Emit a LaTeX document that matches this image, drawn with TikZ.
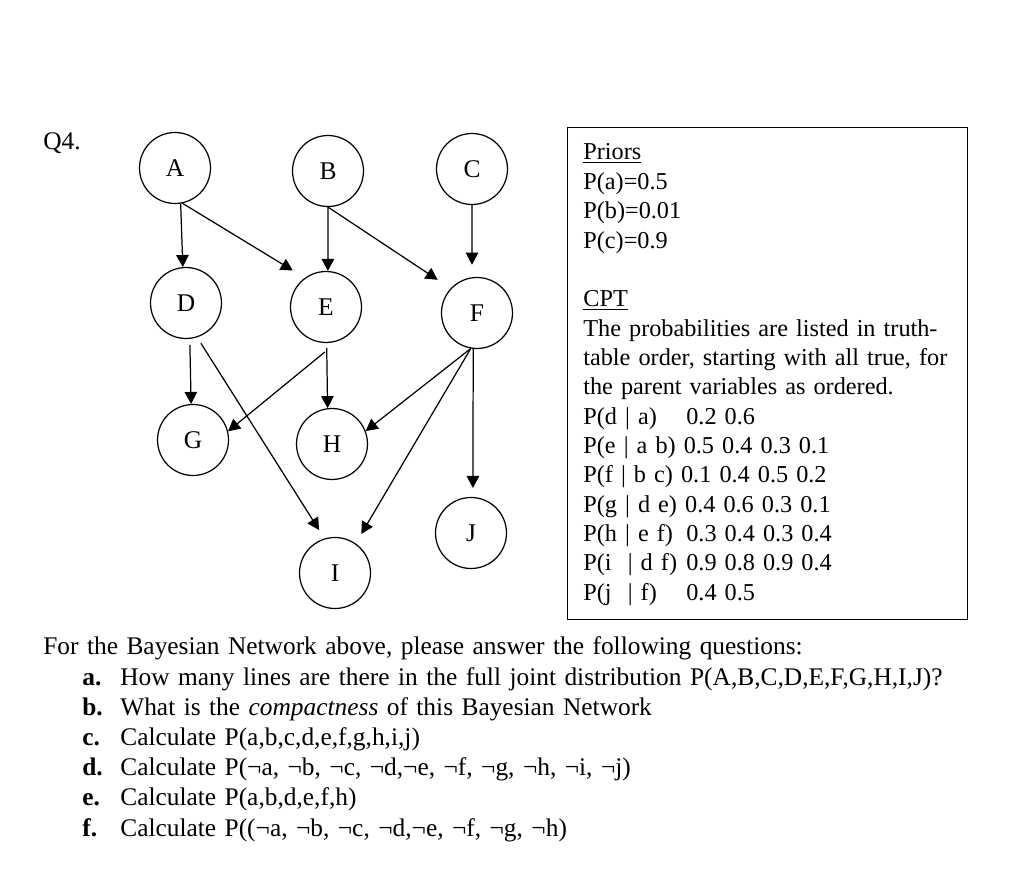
\documentclass[tikz,border=0pt]{standalone}
\usepackage{fontspec}
\setmainfont{Liberation Serif}
\usetikzlibrary{arrows.meta}
\tikzset{
  var/.style={circle, draw, line width=0.7pt, minimum size=1.42cm, inner sep=0pt,
              font=\fontsize{14.5}{17}\selectfont},
  flow/.style={-{Triangle[length=2.4mm, width=2.5mm]}, line width=0.7pt},
  txt/.style={align=left, inner sep=0pt, font=\fontsize{13.8}{16.7}\selectfont},
  qtxt/.style={txt, font=\fontsize{14.45}{17.1}\selectfont},
  panel/.style={draw, line width=0.7pt, inner sep=0pt, minimum width=8cm,
                minimum height=9.84cm, anchor=north west},
}
\newcommand{\cptrow}[2]{\makebox[2.06cm][l]{#1}#2}
\newcommand{\qitem}[2]{\hspace*{0.78cm}\makebox[0.76cm][l]{\textbf{#1}}#2}

\begin{document}
\begin{tikzpicture}[x=0.02cm, y=-0.02cm]
  \useasboundingbox (0,0) rectangle (1024,891);

  \node[qtxt, anchor=base west] (q4) at (43,150) {Q4.};

  % network
  \node[var] (A) at (175,168) {A};
  \node[var] (B) at (328,171) {B};
  \node[var] (C) at (472,169) {C};
  \node[var] (D) at (186,303) {D};
  \node[var] (E) at (326,307) {E};
  \node[var] (F) at (477,313) {F};
  \node[var] (G) at (193,440) {G};
  \node[var] (H) at (332,444) {H};
  \node[var] (I) at (335,573) {I};
  \node[var] (J) at (471,533) {J};

  \draw[flow] (A.-81) -- (D.95);
  \draw[flow, shorten >=0.28cm] (A.-78) -- (E.126);
  \draw[flow] (B.-90) -- (E.87);
  \draw[flow, shorten >=0.31cm] (B.-90) -- (F.137);
  \draw[flow, shorten >=0.25cm] (C.south) -- (F.98);
  \draw[flow, shorten <=0.12cm] (D.-84) -- (G.93);
  \draw[flow, shorten <=0.14cm, shorten >=0.2cm] (D.-72) -- (I.107);
  \draw[flow, shorten <=0.35cm] (E.-70) -- (G.14);
  \draw[flow, shorten <=0.1cm] (E.-89) -- (H.97);
  \draw[flow] (F.-100) -- (H.21);
  \draw[flow, shorten >=0.22cm] (F.-100) -- (I.55);
  \draw[flow, shorten >=0.18cm] (F.-96) -- (J.87);

  % priors and CPT
  \node[panel] (frame) at (567,127) {};
  \node[txt, text width=7.5cm, anchor=base west] (cpt) at (583,160) {%
    \underline{Priors}\\
    P(a)=0.5\\
    P(b)=0.01\\
    P(c)=0.9\\
    \mbox{}\\
    \underline{CPT}\\
    The probabilities are listed in truth-\\
    table order, starting with all true, for\\
    the parent variables as ordered.\\
    \cptrow{P(d | a)}{0.2 0.6}\\
    P(e | a b) 0.5 0.4 0.3 0.1\\
    P(f | b c) 0.1 0.4 0.5 0.2\\
    P(g | d e) 0.4 0.6 0.3 0.1\\
    \cptrow{P(h | e f)}{0.3 0.4 0.3 0.4}\\
    \cptrow{P(i \ | d f)}{0.9 0.8 0.9 0.4}\\
    \cptrow{P(j \ | f)}{0.4 0.5}};

  % questions
  \node[qtxt, text width=20cm, anchor=base west] (qs) at (43,654) {%
    For the Bayesian Network above, please answer the following questions:\\[1pt]
    \qitem{a.}{How many lines are there in the full joint distribution P(A,B,C,D,E,F,G,H,I,J)?}\\
    \qitem{b.}{What is the \emph{compactness} of this Bayesian Network}\\
    \qitem{c.}{Calculate P(a,b,c,d,e,f,g,h,i,j)}\\
    \qitem{d.}{Calculate P(¬a, ¬b, ¬c, ¬d,¬e, ¬f, ¬g, ¬h, ¬i, ¬j)}\\
    \qitem{e.}{Calculate P(a,b,d,e,f,h)}\\
    \qitem{f.}{Calculate P((¬a, ¬b, ¬c, ¬d,¬e, ¬f, ¬g, ¬h)}};
\end{tikzpicture}
\end{document}
